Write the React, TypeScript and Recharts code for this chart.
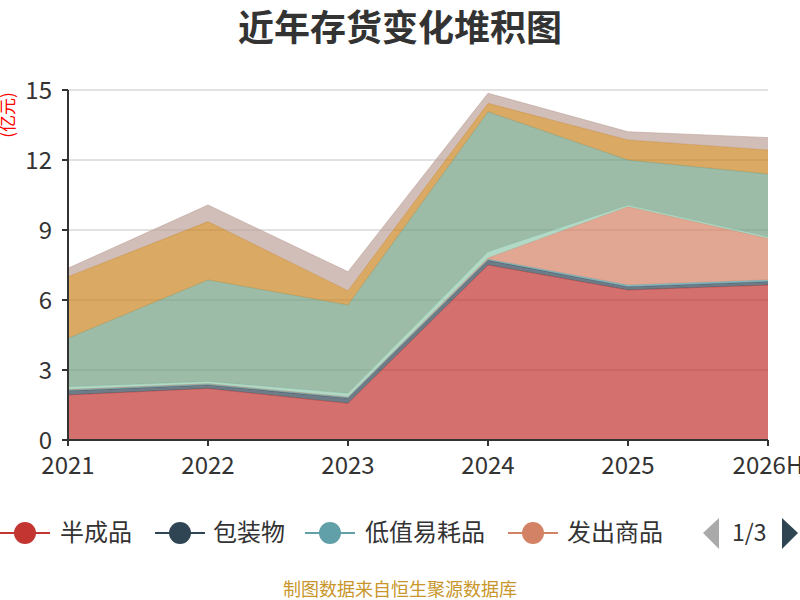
import React from "react";
import {
  AreaChart,
  Area,
  XAxis,
  YAxis,
  CartesianGrid,
} from "recharts";

const years = ["2021", "2022", "2023", "2024", "2025", "2026H"];

// 各项存货（亿元）
const semiFinished = [1.93, 2.21, 1.57, 7.5, 6.43, 6.64];
const packaging = [0.18, 0.15, 0.22, 0.2, 0.14, 0.15];
const lowValue = [0.05, 0.05, 0.05, 0.05, 0.07, 0.07];
const shipped = [0, 0, 0, 0.05, 3.36, 1.78];
const consigned = [0.12, 0.1, 0.16, 0.27, 0.07, 0.07];
const finishedGoods = [2.08, 4.35, 3.79, 6.0, 1.93, 2.69];
const rawMaterials = [2.64, 2.5, 0.61, 0.36, 0.86, 1.03];
const inProcess = [0.36, 0.71, 0.81, 0.43, 0.35, 0.53];

const yTicks = [0, 3, 6, 9, 12, 15];

const seriesList = [
  { key: "半成品", values: semiFinished, color: "#c23531" },
  { key: "包装物", values: packaging, color: "#2f4554" },
  { key: "低值易耗品", values: lowValue, color: "#61a0a8" },
  { key: "发出商品", values: shipped, color: "#d48265" },
  { key: "委托加工物资", values: consigned, color: "#91c7ae" },
  { key: "库存商品", values: finishedGoods, color: "#749f83" },
  { key: "原材料", values: rawMaterials, color: "#ca8622" },
  { key: "在产品", values: inProcess, color: "#bda29a" },
];

const data = years.map((year, i) => {
  const row: Record<string, string | number> = { year };
  seriesList.forEach((s) => {
    row[s.key] = s.values[i];
  });
  return row;
});

const font = "'Noto Sans CJK SC', 'Noto Sans', sans-serif";

const legendItems = [
  { name: "半成品", color: "#c23531", x: 0, textX: 60 },
  { name: "包装物", color: "#2f4554", x: 155, textX: 213 },
  { name: "低值易耗品", color: "#61a0a8", x: 305, textX: 365 },
  { name: "发出商品", color: "#d48265", x: 508, textX: 567 },
];

export default function App() {
  return (
    <div
      style={{
        position: "absolute",
        left: 0,
        top: 0,
        width: 800,
        height: 600,
        background: "#fff",
        fontFamily: font,
      }}
    >
      <AreaChart
        width={800}
        height={600}
        data={data}
        margin={{ top: 90, right: 32, bottom: 130, left: 0 }}
      >
        <CartesianGrid horizontal vertical={false} stroke="#c4c4c4" />
        <XAxis
          dataKey="year"
          height={30}
          axisLine={{ stroke: "#333", strokeWidth: 2 }}
          tickLine={{ stroke: "#333", strokeWidth: 2 }}
          tickSize={6}
          tick={{ fill: "#333", fontSize: 24, fontFamily: font }}
          tickMargin={11}
          interval={0}
        />
        <YAxis
          width={68}
          domain={[0, 15]}
          ticks={yTicks}
          axisLine={{ stroke: "#333", strokeWidth: 2 }}
          tickLine={{ stroke: "#333", strokeWidth: 2 }}
          tickSize={6}
          tick={{ fill: "#333", fontSize: 24, fontFamily: font }}
          tickMargin={10}
        />
        {seriesList.map((s) => (
          <Area
            key={s.key}
            type="linear"
            dataKey={s.key}
            stackId="1"
            stroke={s.color}
            strokeOpacity={0.6}
            strokeWidth={1}
            fill={s.color}
            fillOpacity={0.7}
            isAnimationActive={false}
          />
        ))}
      </AreaChart>

      <div
        style={{
          position: "absolute",
          left: 0,
          top: 3,
          width: 800,
          textAlign: "center",
          fontSize: 36,
          fontWeight: "bold",
          color: "#333",
          lineHeight: "44px",
        }}
      >
        近年存货变化堆积图
      </div>

      <svg
        width={800}
        height={600}
        style={{ position: "absolute", left: 0, top: 0, pointerEvents: "none" }}
      >
        <text
          transform="translate(14,115) rotate(-90)"
          textAnchor="middle"
          fontSize={17}
          fill="#ff0000"
          fontFamily={font}
        >
          (亿元)
        </text>

        {legendItems.map((item) => (
          <g key={item.name}>
            <line
              x1={item.x}
              x2={item.x + 50}
              y1={533}
              y2={533}
              stroke={item.color}
              strokeWidth={2}
            />
            <circle cx={item.x + 25} cy={533} r={11} fill={item.color} />
            <text
              x={item.textX}
              y={541}
              fontSize={24}
              fill="#333"
              fontFamily={font}
            >
              {item.name}
            </text>
          </g>
        ))}
        <polygon points="719,518 719,549 703,533" fill="#aaa" />
        <text x={732} y={541} fontSize={23} fill="#333" fontFamily={font}>
          1/3
        </text>
        <polygon points="782,518 782,549 798,533" fill="#2f4554" />

        <text
          x={400}
          y={596}
          textAnchor="middle"
          fontSize={18}
          fill="#c8962a"
          fontFamily={font}
        >
          制图数据来自恒生聚源数据库
        </text>
      </svg>
    </div>
  );
}
